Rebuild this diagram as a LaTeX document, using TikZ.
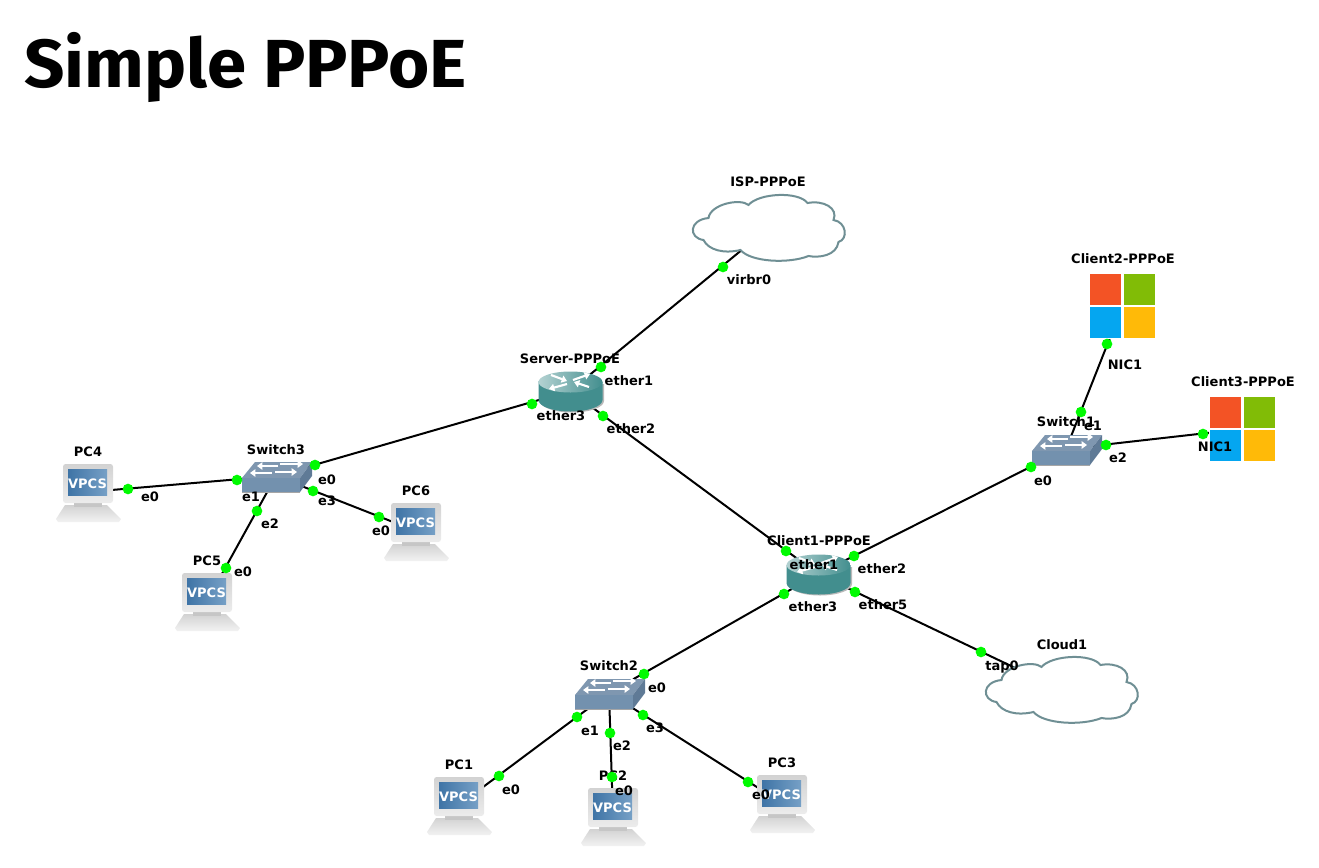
\documentclass[tikz,border=0pt]{standalone}
\usepackage{fontspec}
\setmainfont{DejaVu Sans}
\newfontfamily\titlefont{Fira Sans}
\usetikzlibrary{arrows.meta}
\definecolor{cloudedge}{HTML}{6F8F94}
\definecolor{rteal}{HTML}{428E8E}
\definecolor{rlight}{HTML}{B4D2D2}
\definecolor{swfront}{HTML}{7391AE}
\definecolor{swtop}{HTML}{7F97B0}
\definecolor{swside}{HTML}{5F7A96}
\definecolor{winr}{HTML}{F35325}
\definecolor{wing}{HTML}{81BC06}
\definecolor{winb}{HTML}{05A6F0}
\definecolor{winy}{HTML}{FFBA08}
\definecolor{portgreen}{HTML}{00FA00}
\definecolor{scrL}{HTML}{3F74A6}
\definecolor{scrR}{HTML}{76A0C6}
\tikzset{
  x=0.75pt,y=-0.75pt,
  link/.style={draw=black,line width=1.5pt},
  dev/.style={inner sep=0pt,minimum size=30pt},
  port/.style={circle,fill=portgreen,draw=none,inner sep=0pt,minimum size=8pt},
  devlabel/.style={font=\bfseries\fontsize{9.75}{11}\selectfont,text=black,inner sep=0pt,yshift=-0.75pt},
  portlabel/.style={font=\bfseries\fontsize{9.75}{11}\selectfont,text=black,inner sep=0pt,yshift=-0.75pt},
  warrow/.style={draw=white,line width=1.6pt,-{Triangle[length=4pt,width=5.5pt]}},
  cloudpic/.pic={
    \draw[draw=cloudedge,fill=white,line width=1.5pt]
      (-28,22) .. controls (-45,26) and (-60,22) .. (-65,12)
      .. controls (-80,10) and (-80,-8) .. (-60,-10)
      .. controls (-58,-24) and (-28,-30) .. (-20,-23)
      .. controls (-10,-35) and (30,-37) .. (39,-25)
      .. controls (55,-28) and (70,-20) .. (65,-8)
      .. controls (78,-6) and (80,11) .. (70,14)
      .. controls (68,28) and (50,30) .. (40,28)
      .. controls (20,36) and (-18,34) .. (-28,22) -- cycle;
  },
  routerpic/.pic={
    \fill[gray!55] (-30,-7) -- (34,-7) -- (34,10) arc[start angle=0,end angle=180,x radius=32,y radius=11.5] -- cycle;
    \fill[rteal] (-31.5,-9) -- (32.5,-9) -- (32.5,9) arc[start angle=0,end angle=180,x radius=32,y radius=11.5] -- cycle;
    \shade[left color=rlight,middle color=rteal,right color=rteal] (0.5,-9) ellipse[x radius=32,y radius=10.5];
    \draw[warrow] (-19,-16) -- (-3,-10);
    \draw[warrow] (19,-4) -- (4,-9);
    \draw[warrow] (3,-11) -- (20,-17);
    \draw[warrow] (-3,-7) -- (-21,-2);
  },
  switchpic/.pic={
    \fill[gray!70] (-34,3) -- (24,3) -- (24,17) -- (-34,17) -- cycle;
    \fill[swtop] (-34,2) -- (-21,-14) -- (36,-14) -- (24,2) -- cycle;
    \fill[swfront] (-34,2) -- (24,2) -- (24,15.5) -- (-34,15.5) -- cycle;
    \fill[swside] (24,2) -- (36,-14) -- (36,0) -- (24,16) -- cycle;
    \draw[warrow] (2,-10) -- (-19,-10);
    \draw[warrow] (4,-12) -- (27,-12);
    \draw[warrow] (-4,-3) -- (-26,-3);
    \draw[warrow] (-1,-4) -- (21,-4);
  },
  vpcspic/.pic={
    \shade[top color=gray!35,bottom color=gray!10] (-23,13) -- (19,13) -- (33,27) -- (31,30) -- (-30,30) -- (-32,27) -- cycle;
    \fill[gray!45] (-14,9) rectangle (14,15);
    \shade[top color=gray!35,bottom color=gray!15,rounded corners=2pt] (-25,-28) rectangle (25,11);
    \shade[left color=scrL,right color=scrR] (-20,-23) rectangle (19,3);
    \node[font=\bfseries\fontsize{9.75}{11}\selectfont,text=white,inner sep=0pt] at (-0.5,-8) {VPCS};
  },
  winpic/.pic={
    \fill[white] (-33.5,-33) rectangle (33.5,33);
    \fill[winr] (-32.5,-32) rectangle (-1.5,-1);
    \fill[wing] (1.5,-32) rectangle (32.5,-1);
    \fill[winb] (-32.5,1) rectangle (-1.5,32);
    \fill[winy] (1.5,1) rectangle (32.5,32);
  }
}
\begin{document}
\begin{tikzpicture}
\useasboundingbox (0,0) rectangle (1319,867);
% devices (named anchors for connectors)
\node[dev] (isp) at (768.5,228) {};
\node[dev] (server) at (570,391) {};
\node[dev] (client1) at (818,574) {};
\node[dev] (sw3) at (276,476) {};
\node[dev] (sw2) at (609,693) {};
\node[dev] (sw1) at (1066,449) {};
\node[dev] (pc4) at (88,492) {};
\node[dev] (pc5) at (207,601) {};
\node[dev] (pc6) at (416,531) {};
\node[dev] (pc1) at (459,805) {};
\node[dev] (pc2) at (613,816) {};
\node[dev] (pc3) at (782,803) {};
\node[dev] (client2) at (1122.5,306) {};
\node[dev] (client3) at (1242.5,429) {};
\node[dev] (cloud1) at (1061.5,690) {};
% connectors
\draw[link] (isp.center) -- (server.center);
\draw[link] (server.center) -- (client1.center);
\draw[link] (server.center) -- (sw3.center);
\draw[link] (client1.center) -- (sw1.center);
\draw[link] (client1.center) -- (sw2.center);
\draw[link] (client1.center) -- (cloud1.center);
\draw[link] (sw3.center) -- (pc4.center);
\draw[link] (sw3.center) -- (pc5.center);
\draw[link] (sw3.center) -- (pc6.center);
\draw[link] (sw2.center) -- (pc1.center);
\draw[link] (sw2.center) -- (pc2.center);
\draw[link] (sw2.center) -- (pc3.center);
\draw[link] (sw1.center) -- (client2.center);
\draw[link] (sw1.center) -- (client3.center);
% device drawings
\pic at (isp.center) {cloudpic};
\pic at (cloud1.center) {cloudpic};
\pic at (server.center) {routerpic};
\pic at (client1.center) {routerpic};
\pic at (sw1.center) {switchpic};
\pic at (sw2.center) {switchpic};
\pic at (sw3.center) {switchpic};
\foreach \p in {pc1,pc2,pc3,pc4,pc5,pc6} {\pic at (\p.center) {vpcspic};}
\pic at (client2.center) {winpic};
\pic at (client3.center) {winpic};
% title
\node[anchor=base west,inner sep=0pt,font=\titlefont\bfseries\fontsize{51}{60}\selectfont] (title) at (24,87) {\scalebox{1.04}[1]{Simple PPPoE}};
% device labels
\node[devlabel] (lisp) at (768,181) {ISP-PPPoE};
\node[devlabel] (lserver) at (570,358) {Server-PPPoE};
\node[devlabel] (lclient1) at (819,540) {Client1-PPPoE};
\node[devlabel] (lclient2) at (1123,258) {Client2-PPPoE};
\node[devlabel] (lclient3) at (1243,381) {Client3-PPPoE};
\node[devlabel] (lsw3) at (276,449) {Switch3};
\node[devlabel] (lsw2) at (609,665) {Switch2};
\node[devlabel] (lsw1) at (1066,421) {Switch1};
\node[devlabel] (lpc4) at (88,451) {PC4};
\node[devlabel] (lpc5) at (207,560) {PC5};
\node[devlabel] (lpc6) at (416,490) {PC6};
\node[devlabel] (lpc1) at (459,764) {PC1};
\node[devlabel] (lpc2) at (613,775) {PC2};
\node[devlabel] (lpc3) at (782,762) {PC3};
\node[devlabel] (lcloud1) at (1062,644) {Cloud1};
% port dots
\node[port] (d1) at (723,267) {};
\node[port] (d2) at (601,367) {};
\node[port] (d3) at (532,404) {};
\node[port] (d4) at (603,416) {};
\node[port] (d5) at (315,465) {};
\node[port] (d6) at (313,491) {};
\node[port] (d7) at (237,480) {};
\node[port] (d8) at (257,511) {};
\node[port] (d9) at (128,489) {};
\node[port] (d10) at (226,568) {};
\node[port] (d11) at (379,517) {};
\node[port] (d12) at (786,551) {};
\node[port] (d13) at (854,556) {};
\node[port] (d14) at (784,594) {};
\node[port] (d15) at (855,592) {};
\node[port] (d16) at (981,652) {};
\node[port] (d17) at (644,674) {};
\node[port] (d18) at (577,717) {};
\node[port] (d19) at (610,733) {};
\node[port] (d20) at (643,715) {};
\node[port] (d21) at (499,776) {};
\node[port] (d22) at (612,777) {};
\node[port] (d23) at (748,782) {};
\node[port] (d24) at (1107,344) {};
\node[port] (d25) at (1081,412) {};
\node[port] (d26) at (1106,445) {};
\node[port] (d27) at (1031,467) {};
\node[port] (d28) at (1203,434) {};
% port labels
\node[portlabel] (p1) at (749,279) {virbr0};
\node[portlabel] (p2) at (629,380) {ether1};
\node[portlabel] (p3) at (561,415) {ether3};
\node[portlabel] (p4) at (631,428) {ether2};
\node[portlabel] (p5) at (327,479) {e0};
\node[portlabel] (p6) at (327,500) {e3};
\node[portlabel] (p7) at (251,496) {e1};
\node[portlabel] (p8) at (270,523) {e2};
\node[portlabel] (p9) at (150,496) {e0};
\node[portlabel] (p10) at (243,571) {e0};
\node[portlabel] (p11) at (381,530) {e0};
\node[portlabel] (p12) at (814,564) {ether1};
\node[portlabel] (p13) at (882,568) {ether2};
\node[portlabel] (p14) at (813,606) {ether3};
\node[portlabel] (p15) at (883,604) {ether5};
\node[portlabel] (p16) at (1002,666) {tap0};
\node[portlabel] (p17) at (657,687) {e0};
\node[portlabel] (p18) at (590,730) {e1};
\node[portlabel] (p19) at (622,745) {e2};
\node[portlabel] (p20) at (655,727) {e3};
\node[portlabel] (p21) at (511,789) {e0};
\node[portlabel] (p22) at (624,790) {e0};
\node[portlabel] (p23) at (761,794) {e0};
\node[portlabel] (p24) at (1125,364) {NIC1};
\node[portlabel] (p25) at (1093,425) {e1};
\node[portlabel] (p26) at (1118,457) {e2};
\node[portlabel] (p27) at (1043,480) {e0};
\node[portlabel] (p28) at (1215,446) {NIC1};
\end{tikzpicture}
\end{document}
